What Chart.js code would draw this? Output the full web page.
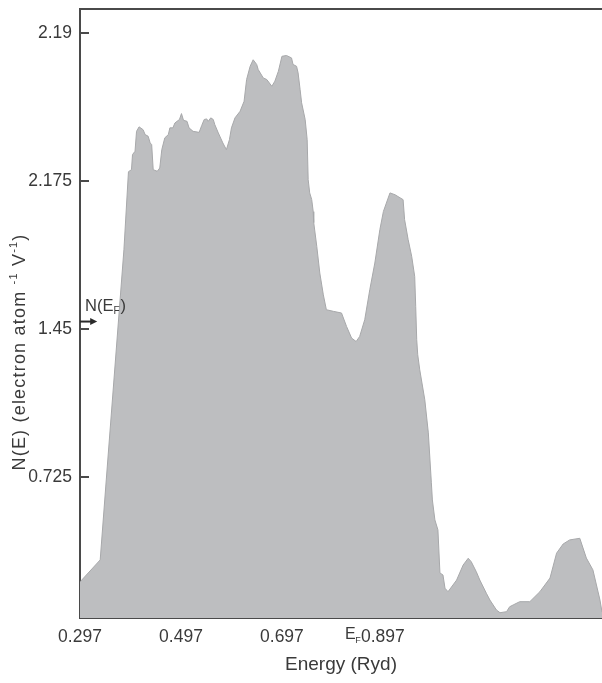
<!DOCTYPE html>
<html>
<head>
<meta charset="utf-8">
<script src="https://cdn.jsdelivr.net/npm/chart.js@4/dist/chart.umd.min.js"></script>
<style>
  html, body { margin: 0; padding: 0; background: #ffffff; }
  #wrap { width: 602px; height: 683px; }
</style>
</head>
<body>
<div id="wrap"><canvas id="dos" width="602" height="683"></canvas></div>
<script>
// Density of states N(E) against energy (Ryd)
const energy = [
  0.297, 0.337, 0.349, 0.384, 0.393, 0.399, 0.401, 0.406, 0.409, 0.414,
  0.422, 0.426, 0.432, 0.436, 0.439, 0.442, 0.450, 0.455, 0.459, 0.465,
  0.472, 0.475, 0.481, 0.485, 0.494, 0.498, 0.502, 0.509, 0.513, 0.521,
  0.533, 0.538, 0.543, 0.548, 0.551, 0.556, 0.561, 0.564, 0.571, 0.580,
  0.587, 0.593, 0.597, 0.604, 0.614, 0.622, 0.627, 0.634, 0.640, 0.647,
  0.650, 0.660, 0.667, 0.677, 0.683, 0.690, 0.697, 0.706, 0.716, 0.719,
  0.726, 0.729, 0.733, 0.736, 0.743, 0.747, 0.749, 0.752, 0.756, 0.759,
  0.760, 0.766, 0.772, 0.779, 0.785, 0.799, 0.815, 0.825, 0.835, 0.844,
  0.851, 0.861, 0.871, 0.881, 0.891, 0.898, 0.911, 0.921, 0.937, 0.940,
  0.947, 0.954, 0.960, 0.962, 0.964, 0.966, 0.970, 0.980, 0.987, 0.993,
  0.995, 1.000, 1.006, 1.010, 1.016, 1.020, 1.026, 1.043, 1.056, 1.066,
  1.072, 1.082, 1.089, 1.102, 1.109, 1.122, 1.129, 1.142, 1.148, 1.155,
  1.168, 1.188, 1.208, 1.228, 1.241, 1.254, 1.267, 1.287, 1.300, 1.313,
  1.327, 1.331
];
const dos = [
  0.210, 0.318, 0.710, 1.839, 2.222, 2.232, 2.306, 2.322, 2.420, 2.442,
  2.428, 2.404, 2.396, 2.363, 2.355, 2.232, 2.224, 2.240, 2.330, 2.388,
  2.404, 2.437, 2.437, 2.461, 2.478, 2.507, 2.474, 2.469, 2.437, 2.420,
  2.415, 2.448, 2.478, 2.481, 2.469, 2.486, 2.478, 2.453, 2.412, 2.363,
  2.330, 2.379, 2.437, 2.486, 2.518, 2.567, 2.674, 2.739, 2.771, 2.748,
  2.723, 2.682, 2.674, 2.641, 2.666, 2.715, 2.788, 2.792, 2.780, 2.748,
  2.739, 2.707, 2.625, 2.560, 2.478, 2.379, 2.183, 2.118, 2.085, 2.026,
  1.972, 1.856, 1.725, 1.618, 1.545, 1.537, 1.529, 1.463, 1.406, 1.389,
  1.414, 1.496, 1.643, 1.774, 1.938, 2.027, 2.118, 2.109, 2.085, 1.987,
  1.889, 1.807, 1.708, 1.561, 1.398, 1.324, 1.250, 1.103, 0.941, 0.696,
  0.612, 0.514, 0.465, 0.254, 0.244, 0.179, 0.162, 0.219, 0.293, 0.326,
  0.309, 0.260, 0.219, 0.154, 0.121, 0.072, 0.059, 0.064, 0.088, 0.097,
  0.113, 0.113, 0.162, 0.229, 0.351, 0.396, 0.416, 0.424, 0.327, 0.269,
  0.121, 0.062
];

const xTickValues = [0.297, 0.497, 0.697, 0.897];
const xTickLabels = ['0.297', '0.497', '0.697', '0.897'];
const yTickValues = [0.725, 1.45, 2.175, 2.9];
const yTickLabels = ['0.725', '1.45', '2.175', '2.19'];

// Fermi level marker and N(E_F) arrow
const fermiEnergy = 0.822;
const fermiDos = 1.487;
const fermiArrowEnd = 0.331;
const fermiLabelLevel = 1.56;

const FONT = "'Liberation Sans', Arial, Helvetica, sans-serif";
const INK = '#3a3a3a';
const AXIS = '#4a4a4a';
const X_TICK_PAD = 9;
const TICK_SIZE = 17.5;

const extras = {
  id: 'extras',
  afterDraw(chart) {
    const { ctx, chartArea, scales } = chart;
    const x = scales.x, y = scales.y;
    ctx.save();

    // inward tick marks on the y axis
    ctx.strokeStyle = AXIS;
    ctx.lineWidth = 2;
    yTickValues.forEach(v => {
      const py = Math.round(y.getPixelForValue(v));
      ctx.beginPath();
      ctx.moveTo(chartArea.left, py);
      ctx.lineTo(chartArea.left + 9, py);
      ctx.stroke();
    });

    // E_F label under the x axis, on the tick label line
    ctx.fillStyle = INK;
    ctx.textBaseline = 'middle';
    ctx.textAlign = 'left';
    const efx = x.getPixelForValue(fermiEnergy);
    const efy = chartArea.bottom + X_TICK_PAD + 8;
    ctx.font = `16px ${FONT}`;
    ctx.fillText('E', efx, efy);
    const wE = ctx.measureText('E').width;
    ctx.font = `9px ${FONT}`;
    ctx.fillText('F', efx + wE - 0.5, efy + 6);

    // arrow pointing at N(E_F)
    const ay = y.getPixelForValue(fermiDos);
    const ax1 = x.getPixelForValue(fermiArrowEnd);
    ctx.strokeStyle = '#2a2a2a';
    ctx.fillStyle = '#2a2a2a';
    ctx.lineWidth = 2;
    ctx.beginPath();
    ctx.moveTo(chartArea.left, ay);
    ctx.lineTo(ax1 - 5, ay);
    ctx.stroke();
    ctx.beginPath();
    ctx.moveTo(ax1, ay);
    ctx.lineTo(ax1 - 7, ay - 3.5);
    ctx.lineTo(ax1 - 7, ay + 3.5);
    ctx.closePath();
    ctx.fill();

    // N(E_F) label
    ctx.fillStyle = INK;
    const ly = y.getPixelForValue(fermiLabelLevel);
    let lx = chartArea.left + 5;
    ctx.font = `16.5px ${FONT}`;
    ctx.fillText('N(E', lx, ly);
    lx += ctx.measureText('N(E').width;
    ctx.font = `10px ${FONT}`;
    ctx.fillText('F', lx, ly + 5);
    lx += ctx.measureText('F').width + 1;
    ctx.font = `16.5px ${FONT}`;
    ctx.fillText(')', lx, ly);

    // y axis title with superscripts, drawn rotated
    const parts = [
      { t: 'N(E) (electron atom ', sup: false },
      { t: '-1', sup: true },
      { t: ' V', sup: false },
      { t: '-1', sup: true },
      { t: ')', sup: false }
    ];
    const mainFont = `18px ${FONT}`;
    const supFont = `11px ${FONT}`;
    ctx.letterSpacing = '1.2px';
    let total = 0;
    parts.forEach(p => {
      ctx.font = p.sup ? supFont : mainFont;
      p.w = ctx.measureText(p.t).width;
      total += p.w;
    });
    ctx.translate(20, 352);
    ctx.rotate(-Math.PI / 2);
    let px = -total / 2;
    parts.forEach(p => {
      ctx.font = p.sup ? supFont : mainFont;
      ctx.fillText(p.t, px, p.sup ? -6 : 0);
      px += p.w;
    });

    ctx.restore();
  }
};

new Chart(document.getElementById('dos'), {
  type: 'line',
  data: {
    datasets: [{
      data: energy.map((e, i) => ({ x: e, y: dos[i] })),
      fill: 'start',
      backgroundColor: '#bdbec0',
      borderColor: '#a7a8aa',
      borderWidth: 1,
      pointRadius: 0,
      tension: 0
    }]
  },
  options: {
    responsive: false,
    animation: false,
    layout: { padding: 0 },
    plugins: { legend: { display: false }, tooltip: { enabled: false } },
    scales: {
      x: {
        type: 'linear',
        position: 'bottom',
        min: 0.297,
        max: 1.331,
        afterBuildTicks: s => { s.ticks = xTickValues.map(v => ({ value: v })); },
        afterFit: s => { s.height = 65; s.paddingLeft = 0; s.paddingRight = 0; },
        grid: { display: false, drawTicks: false, tickLength: 0 },
        border: { display: true, color: AXIS, width: 2 },
        ticks: {
          autoSkip: false,
          maxRotation: 0,
          padding: X_TICK_PAD,
          color: INK,
          font: { family: FONT, size: TICK_SIZE },
          callback: (v, i) => xTickLabels[i]
        },
        title: {
          display: true,
          text: 'Energy (Ryd)',
          color: INK,
          font: { family: FONT, size: 19 },
          padding: { top: 0, bottom: 7 }
        }
      },
      xTop: {
        type: 'linear',
        position: 'top',
        min: 0.297,
        max: 1.331,
        afterFit: s => { s.height = 9; s.paddingLeft = 0; s.paddingRight = 0; },
        grid: { display: false, drawTicks: false, tickLength: 0 },
        border: { display: true, color: AXIS, width: 2 },
        ticks: { display: false }
      },
      y: {
        type: 'linear',
        min: 0.033,
        max: 3.02,
        afterBuildTicks: s => { s.ticks = yTickValues.map(v => ({ value: v })); },
        afterFit: s => { s.width = 80; s.paddingTop = 0; s.paddingBottom = 0; },
        grid: { display: false, drawTicks: false, tickLength: 0 },
        border: { display: true, color: AXIS, width: 2 },
        ticks: {
          padding: 8,
          color: INK,
          font: { family: FONT, size: TICK_SIZE },
          callback: (v, i) => yTickLabels[i]
        }
      }
    }
  },
  plugins: [extras]
});
</script>
</body>
</html>
